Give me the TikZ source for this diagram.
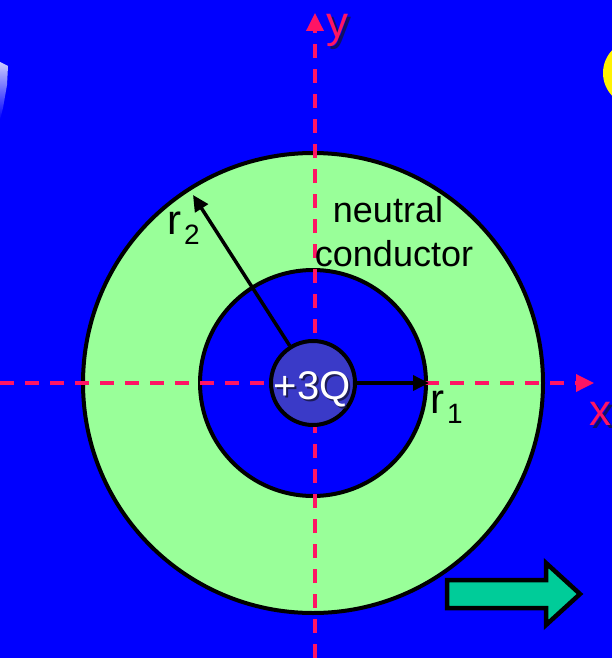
\documentclass[tikz,border=0pt]{standalone}
\usepackage{fontspec}
\setmainfont{Liberation Sans}
\usetikzlibrary{arrows.meta}
\definecolor{bgblue}{RGB}{0,0,255}
\definecolor{annulus}{RGB}{153,255,153}
\definecolor{charge}{RGB}{58,58,200}
\definecolor{axispink}{RGB}{255,20,100}
\definecolor{arrowgreen}{RGB}{0,204,153}
\definecolor{shadowc}{RGB}{20,20,60}
\tikzset{
  outline/.style={line width=4pt, draw=black},
  axis/.style={axispink, line width=3.5pt, dash pattern=on 14pt off 11pt,
    -{Triangle[length=18pt,width=17pt]}},
  radius arrow/.style={line width=3.5pt, -{Triangle[length=16pt,width=15pt]}},
  label/.style={inner sep=0pt, font=\fontsize{36}{43}\selectfont},
  axislabel/.style={inner sep=0pt, font=\fontsize{44}{50}\selectfont, text=axispink},
  shadowtext/.style={inner sep=0pt, text=shadowc, opacity=0.8},
}
\begin{document}
\begin{tikzpicture}[x=1pt,y=-1pt]
\useasboundingbox (0,0) rectangle (612,658);
\clip (0,0) rectangle (612,658);
\fill[bgblue] (0,0) rectangle (612,658);
% partial decorations at edges
\fill[yellow] (636,73) ellipse [x radius=33, y radius=33];
\shade[top color=white, bottom color=bgblue, opacity=0.8]
  (0,62) -- (8,66) -- (7,85) -- (3,108) -- (0,120) -- cycle;
% conductor shell
\coordinate (O) at (313,383);
\filldraw[fill=annulus, outline] (O) circle [radius=230];
\filldraw[fill=bgblue, outline] (O) circle [radius=113];
% axes
\coordinate (xstart) at (0,383);
\coordinate (xend) at (594,383);
\coordinate (ystart) at (315,658);
\coordinate (yend) at (315,13);
\draw[axis] (xstart) -- (xend);
\draw[axis] (ystart) -- (yend);
% charge
\node[circle, fill=charge, outline, minimum size=84pt, inner sep=0pt] (q) at (O) {};
\coordinate (r1end) at (429,383);
\coordinate (r2end) at (193,195);
\draw[radius arrow] (q.east) -- (r1end);
\draw[radius arrow] (q.122.5) -- (r2end);
% texts
\node[shadowtext, font=\fontsize{40}{46}\selectfont, anchor=base] (qs) at (314,401) {+3Q};
\node[inner sep=0pt, font=\fontsize{40}{46}\selectfont, text=white, anchor=base] (qt) at (312,399) {+3Q};
\node[shadowtext, font=\fontsize{44}{50}\selectfont, anchor=base west] (ys) at (329,41) {y};
\node[axislabel, anchor=base west] (yl) at (326,38) {y};
\node[shadowtext, font=\fontsize{44}{50}\selectfont, anchor=base west] (xs) at (592,428) {x};
\node[axislabel, anchor=base west] (xl) at (589,425) {x};
\node[label, anchor=base] (neutral) at (388,222) {neutral};
\node[label, anchor=base] (conductor) at (394,266) {conductor};
\node[inner sep=0pt, font=\fontsize{42}{46}\selectfont, anchor=base west] (r2) at (167,234) {r};
\node[inner sep=0pt, font=\fontsize{28}{32}\selectfont, anchor=base west] (r2sub) at (184,244) {2};
\node[inner sep=0pt, font=\fontsize{42}{46}\selectfont, anchor=base west] (r1) at (430,413) {r};
\node[inner sep=0pt, font=\fontsize{28}{32}\selectfont, anchor=base west] (r1sub) at (447,423) {1};
% block arrow
\filldraw[fill=arrowgreen, draw=black, line width=4.5pt, line join=miter]
  (447,580) -- (546,580) -- (546,563) -- (580,594) -- (546,625) -- (546,608) -- (447,608) -- cycle;
\end{tikzpicture}
\end{document}
